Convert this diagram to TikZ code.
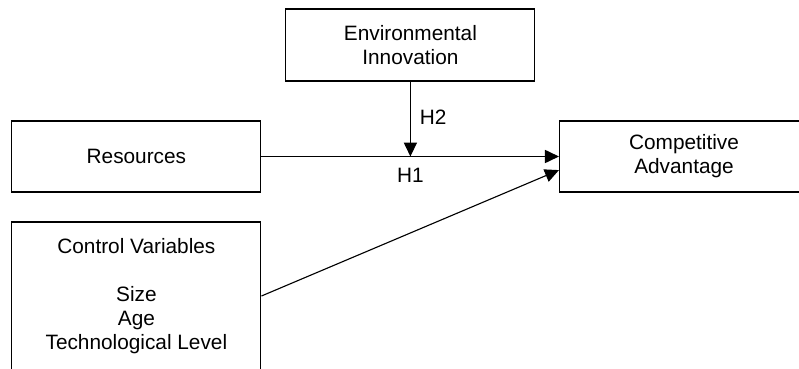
\documentclass[tikz,border=0pt]{standalone}
\usepackage{fontspec}
\setmainfont{Liberation Sans}
\usetikzlibrary{arrows.meta,calc}

\tikzset{
  box/.style={draw, line width=0.8pt, minimum width=6.225cm, align=center,
    font=\fontsize{14.8}{17}\selectfont},
  arr/.style={line width=0.8pt, -{Triangle[length=0.35cm,width=0.33cm]}},
  hyp/.style={font=\fontsize{14.8}{17}\selectfont}
}

\begin{document}
\begin{tikzpicture}

      \useasboundingbox (0,0) rectangle (19.975,9.2);
      \clip (0,0) rectangle (19.975,9.2);

      \node[box, minimum height=1.8cm]   (env)  at (10.26,8.075) {Environmental\\Innovation};
      \node[box, minimum height=1.775cm] (res)  at (3.41,5.2875) {Resources};
      \node[box, minimum height=1.775cm] (comp) at (17.1,5.2875) {Competitive\\Advantage};
      \node[box, minimum height=3.7cm]   (ctrl) at (3.41,1.8)
        {Control Variables\\[17pt]Size\\Age\\Technological Level};

      \coordinate (meet) at (env.south |- res.east);
      \coordinate (caIn) at ([yshift=-0.34cm]comp.west);

      \draw[arr] (res.east) -- (comp.west);
      \draw[arr] (env.south) -- (meet);
      \draw[arr] (ctrl.east) -- (caIn);

      \node[hyp] (h1) at ([yshift=-0.47cm]meet) {H1};
      \node[hyp] (h2) at ([xshift=0.57cm,yshift=0.98cm]meet) {H2};

\end{tikzpicture}
\end{document}
